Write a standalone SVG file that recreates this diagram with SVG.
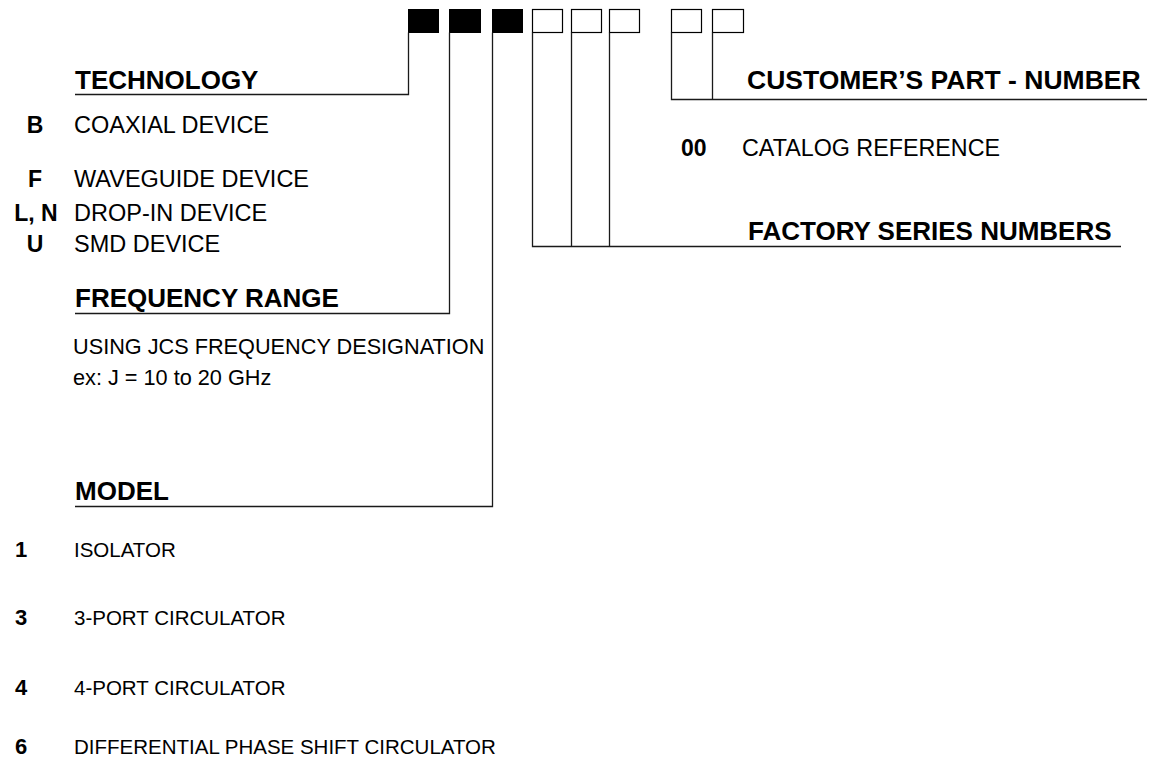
<svg xmlns="http://www.w3.org/2000/svg" width="1152" height="776" viewBox="0 0 1152 776">
<style>
text{font-family:"Liberation Sans",Arial,Helvetica,sans-serif;fill:#000}
.h{font-weight:bold;font-size:26px}
.k{font-weight:bold;font-size:23px;text-anchor:middle}
.d{font-size:23.5px}
.m{font-size:20.5px}
.mk{font-weight:bold;font-size:22px;text-anchor:middle}
.blk{fill:#000;stroke:#000;stroke-width:1}
.wht{fill:#fff;stroke:#000;stroke-width:1.2}
.c{fill:none;stroke:#1a1a1a;stroke-width:1.3}
</style>
<rect width="1152" height="776" fill="#fff"/>
<g id="code-boxes">
<rect class="blk" x="408.5" y="9.5" width="30" height="23"/>
<rect class="blk" x="449.5" y="9.5" width="31" height="23"/>
<rect class="blk" x="492.5" y="9.5" width="30" height="23"/>
<rect class="wht" x="532.5" y="9.5" width="30" height="23"/>
<rect class="wht" x="571.5" y="9.5" width="30" height="23"/>
<rect class="wht" x="609.5" y="9.5" width="30" height="23"/>
<rect class="wht" x="671.5" y="9.5" width="30" height="23"/>
<rect class="wht" x="712.5" y="9.5" width="31" height="23"/>
</g>
<g id="connectors">
<polyline class="c" points="408.5,32.5 408.5,94.5 75,94.5"/>
<polyline class="c" points="449.5,32.5 449.5,313.5 75,313.5"/>
<polyline class="c" points="492.5,32.5 492.5,506.5 75,506.5"/>
<polyline class="c" points="532.5,32.5 532.5,246.5 1121,246.5"/>
<line class="c" x1="571.5" y1="32.5" x2="571.5" y2="246.5"/>
<line class="c" x1="609.5" y1="32.5" x2="609.5" y2="246.5"/>
<polyline class="c" points="671.5,32.5 671.5,99.5 1147,99.5"/>
<line class="c" x1="712.5" y1="32.5" x2="712.5" y2="99.5"/>
</g>
<g id="technology">
<text class="h" x="75" y="89">TECHNOLOGY</text>
<text class="k" x="35" y="133">B</text>
<text class="d" x="74" y="133">COAXIAL DEVICE</text>
<text class="k" x="35" y="187">F</text>
<text class="d" x="74" y="187">WAVEGUIDE DEVICE</text>
<text class="k" x="36" y="221">L, N</text>
<text class="d" x="74" y="221">DROP-IN DEVICE</text>
<text class="k" x="35" y="252">U</text>
<text class="d" x="74" y="252">SMD DEVICE</text>
</g>
<g id="frequency-range">
<text class="h" x="75" y="307">FREQUENCY RANGE</text>
<text x="73" y="354" style="font-size:21.7px">USING JCS FREQUENCY DESIGNATION</text>
<text x="73" y="385" style="font-size:21.7px">ex: J = 10 to 20 GHz</text>
</g>
<g id="model">
<text class="h" x="75" y="500">MODEL</text>
<text class="mk" x="21" y="557">1</text>
<text class="m" x="74" y="557">ISOLATOR</text>
<text class="mk" x="21" y="625">3</text>
<text class="m" x="74" y="625">3-PORT CIRCULATOR</text>
<text class="mk" x="21" y="695">4</text>
<text class="m" x="74" y="695">4-PORT CIRCULATOR</text>
<text class="mk" x="21" y="754">6</text>
<text class="m" x="74" y="754">DIFFERENTIAL PHASE SHIFT CIRCULATOR</text>
</g>
<g id="customer-part-number">
<text class="h" x="747" y="89" style="font-size:26.5px">CUSTOMER’S PART - NUMBER</text>
<text x="681" y="156" style="font-weight:bold;font-size:23px">00</text>
<text x="742" y="156" style="font-size:23.3px">CATALOG REFERENCE</text>
</g>
<g id="factory-series-numbers">
<text class="h" x="748" y="240">FACTORY SERIES NUMBERS</text>
</g>
</svg>
